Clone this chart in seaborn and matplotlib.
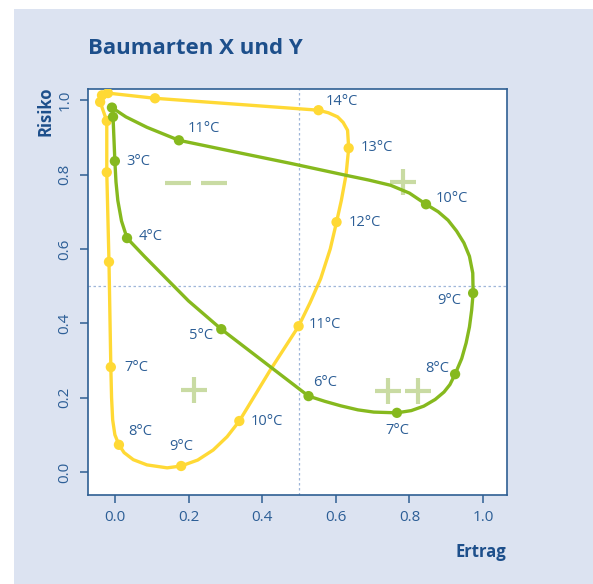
import matplotlib
matplotlib.use("Agg")
import matplotlib.pyplot as plt
import seaborn as sns
from matplotlib.patches import Rectangle

# --- Daten: Baumart Y (gelb), Punkte je Temperatur ---
gelb_temp = [2, 3, 4, 5, 6, 7, 8, 9, 10, 11, 12, 13, 14, 15, 16]
gelb_ertrag = [-0.035, -0.04, -0.022, -0.022, -0.016, -0.011, 0.011, 0.18,
               0.338, 0.499, 0.602, 0.635, 0.553, 0.109, -0.019]
gelb_risiko = [1.013, 0.995, 0.944, 0.806, 0.565, 0.282, 0.073, 0.016,
               0.137, 0.392, 0.672, 0.871, 0.973, 1.005, 1.019]

# Verlauf der gelben Kurve
gelb_kurve_x = [-0.035, -0.04, -0.022, -0.022, -0.016, -0.011, -0.009, -0.006,
                0.0, 0.011, 0.025, 0.05, 0.087, 0.142, 0.18, 0.225, 0.267,
                0.305, 0.338, 0.422, 0.499, 0.53, 0.559, 0.585, 0.602, 0.615,
                0.628, 0.635, 0.632, 0.62, 0.605, 0.58, 0.553, 0.109, -0.019]
gelb_kurve_y = [1.013, 0.995, 0.944, 0.806, 0.565, 0.282, 0.2, 0.14,
                0.1, 0.073, 0.052, 0.033, 0.019, 0.011, 0.016, 0.032, 0.059,
                0.095, 0.137, 0.274, 0.392, 0.455, 0.52, 0.6, 0.672, 0.73,
                0.8, 0.871, 0.919, 0.94, 0.955, 0.966, 0.973, 1.005, 1.019]

# --- Daten: Baumart X (grün) ---
gruen_temp = [2, 3, 4, 5, 6, 7, 8, 9, 10, 11, 12]
gruen_ertrag = [-0.005, 0.0, 0.033, 0.289, 0.526, 0.766, 0.924, 0.973,
                0.845, 0.174, -0.008]
gruen_risiko = [0.955, 0.836, 0.629, 0.384, 0.204, 0.159, 0.263, 0.481,
                0.720, 0.892, 0.98]

gruen_kurve_x = [-0.005, 0.0, 0.003, 0.008, 0.018, 0.033, 0.08, 0.12, 0.2,
                 0.289, 0.526, 0.57, 0.613, 0.66, 0.703, 0.766, 0.805, 0.839,
                 0.87, 0.894, 0.91, 0.924, 0.942, 0.954, 0.963, 0.969, 0.973,
                 0.972, 0.963, 0.948, 0.928, 0.905, 0.878, 0.845, 0.8, 0.749,
                 0.69, 0.627, 0.477, 0.32, 0.174, 0.087, 0.03, -0.008]
gruen_kurve_y = [0.955, 0.836, 0.78, 0.73, 0.675, 0.629, 0.58, 0.54, 0.46,
                 0.384, 0.204, 0.19, 0.178, 0.167, 0.161, 0.159, 0.165, 0.177,
                 0.195, 0.215, 0.235, 0.263, 0.305, 0.347, 0.39, 0.435, 0.481,
                 0.535, 0.58, 0.616, 0.648, 0.677, 0.7, 0.72, 0.75, 0.771,
                 0.785, 0.798, 0.83, 0.862, 0.892, 0.927, 0.955, 0.98]

# Quadranten-Symbole
minus_x = [0.172, 0.270]
minus_y = [0.777, 0.777]
plus_x = [0.215, 0.741, 0.823, 0.782]
plus_y = [0.22, 0.218, 0.218, 0.78]

x_ticks = [0.0, 0.2, 0.4, 0.6, 0.8, 1.0]
y_ticks = [0.0, 0.2, 0.4, 0.6, 0.8, 1.0]

# Beschriftungen: Temperatur -> (dx, dy in Pixel, Ausrichtung)
gelb_labels = {7: (14, 0, "left"), 8: (9, 13, "left"), 9: (0, 19, "center"),
               10: (11, 0, "left"), 11: (10, 2, "left"), 12: (12, 0, "left"),
               13: (12, 1, "left"), 14: (7, 9, "left")}
gruen_labels = {3: (11, 0, "left"), 4: (12, 2, "left"), 5: (-8, -6, "right"),
                6: (5, 14, "left"), 7: (0, -18, "center"), 8: (-6, 6, "right"),
                9: (-12, -7, "right"), 10: (10, 6, "left"), 11: (9, 12, "left")}

GELB = "#FFD935"
GRUEN = "#86B91E"
HELLGRUEN = "#C9DBA3"
BLAU = "#2C5E96"
DUNKELBLAU = "#1D4F8B"
PANEL = "#DCE3F1"

sns.set_style("white")
plt.rcParams["font.family"] = ["Open Sans", "DejaVu Sans"]

fig = plt.figure(figsize=(5.93, 5.84), dpi=100, facecolor="white")
fig.patches.append(Rectangle((14 / 593, 0), 1, 1 - 9 / 584, transform=fig.transFigure,
                             facecolor=PANEL, edgecolor="none", zorder=-10))
ax = fig.add_axes([88 / 593, 1 - 495 / 584, 419 / 593, 406 / 584])
ax.set_facecolor("white")

ax.axvline(0.5, color="#9FB6D9", lw=0.9, ls=(0, (2, 2)), zorder=1)
ax.axhline(0.5, color="#9FB6D9", lw=0.9, ls=(0, (2, 2)), zorder=1)

ax.plot(minus_x, minus_y, ls="none", marker="_", ms=19, mew=3, color=HELLGRUEN, zorder=1)
ax.plot(plus_x, plus_y, ls="none", marker="+", ms=19, mew=3, color=HELLGRUEN, zorder=1)

sns.lineplot(x=gelb_kurve_x, y=gelb_kurve_y, sort=False, estimator=None,
             color=GELB, lw=2.4, ax=ax, zorder=2, solid_joinstyle="round")
sns.scatterplot(x=gelb_ertrag, y=gelb_risiko, color=GELB, s=55,
                edgecolor="none", ax=ax, zorder=3)
sns.lineplot(x=gruen_kurve_x, y=gruen_kurve_y, sort=False, estimator=None,
             color=GRUEN, lw=2.4, ax=ax, zorder=4, solid_joinstyle="round")
sns.scatterplot(x=gruen_ertrag, y=gruen_risiko, color=GRUEN, s=55,
                edgecolor="none", ax=ax, zorder=5)

for temps, xs, ys, labels in [(gelb_temp, gelb_ertrag, gelb_risiko, gelb_labels),
                              (gruen_temp, gruen_ertrag, gruen_risiko, gruen_labels)]:
    for t, x, y in zip(temps, xs, ys):
        if t in labels:
            dx, dy, ha = labels[t]
            ax.annotate(f"{t}°C", (x, y), xytext=(dx, dy), textcoords="offset pixels",
                        ha=ha, va="center", fontsize=10.5, color=BLAU, zorder=6)

ax.set_xlim(-0.073, 1.065)
ax.set_ylim(-0.062, 1.03)
ax.set_xticks(x_ticks)
ax.set_yticks(y_ticks)
ax.set_xticklabels([f"{v:.1f}" for v in x_ticks])
ax.set_yticklabels([f"{v:.1f}" for v in y_ticks], rotation=90, va="center")
ax.tick_params(direction="out", length=6, width=1.1, color="#2F5F93",
               labelcolor=BLAU, labelsize=11, pad=5, left=True, bottom=True)
for s in ax.spines.values():
    s.set_color("#2F5F93")
    s.set_linewidth(1.2)

fig.text(88 / 593, 1 - 48 / 584, "Baumarten X und Y", fontsize=16, fontweight="bold",
         color=DUNKELBLAU, ha="left", va="center")
fig.text(45 / 593, 1 - 87 / 584, "Risiko", fontsize=12, fontweight="bold",
         color=DUNKELBLAU, rotation=90, ha="center", va="top")
fig.text(506 / 593, 1 - 552 / 584, "Ertrag", fontsize=12, fontweight="bold",
         color=DUNKELBLAU, ha="right", va="center")

plt.savefig("out.png", dpi=100, facecolor=fig.get_facecolor())
plt.close()
